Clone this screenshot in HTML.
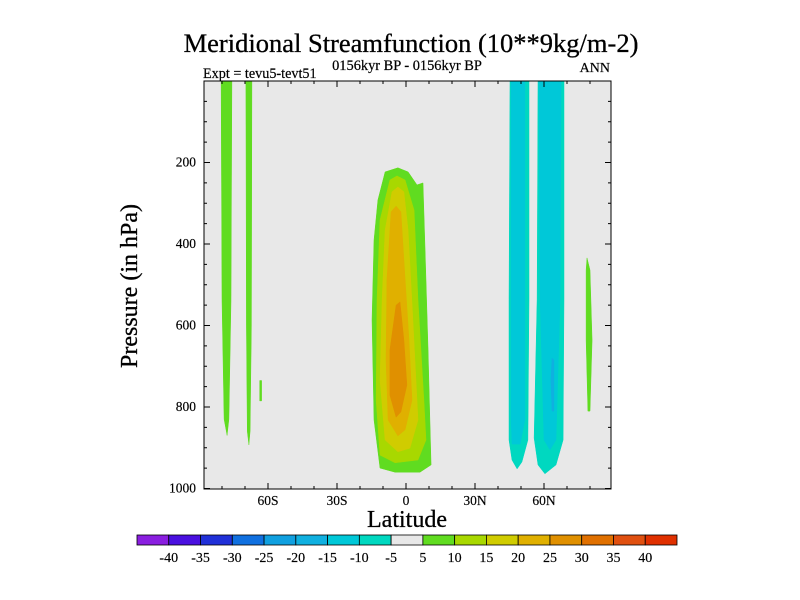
<!DOCTYPE html>
<html><head><meta charset="utf-8"><style>
html,body{margin:0;padding:0;background:#fff;}
svg{display:block;font-family:"Liberation Serif",serif;}
</style></head><body>
<svg id="chart" width="800" height="600" viewBox="0 0 800 600" xmlns="http://www.w3.org/2000/svg">
<rect x="0" y="0" width="800" height="600" fill="#fff"/>
<text x="411" y="52" font-size="26.5" text-anchor="middle" stroke="#000" stroke-width="0.3">Meridional Streamfunction (10**9kg/m-2)</text>
<text x="407" y="70" font-size="14.4" text-anchor="middle" stroke="#000" stroke-width="0.2">0156kyr BP - 0156kyr BP</text>
<text x="203" y="78" font-size="14.2" stroke="#000" stroke-width="0.2">Expt = tevu5-tevt51</text>
<text x="610" y="72" font-size="14" text-anchor="end" stroke="#000" stroke-width="0.2">ANN</text>
<rect x="204" y="81" width="407" height="408" fill="#e8e8e8"/>
<g id="contours"></g>
<g id="axes"></g>
<rect x="204" y="81" width="407" height="408" fill="none" stroke="#000" stroke-width="1"/>
<text x="407" y="527" font-size="24" text-anchor="middle" stroke="#000" stroke-width="0.3">Latitude</text>
<text x="0" y="0" font-size="24" text-anchor="middle" stroke="#000" stroke-width="0.3" transform="translate(137,286) rotate(-90)">Pressure (in hPa)</text>
<g id="colorbar"></g>
</svg>
<script>
const NS="http://www.w3.org/2000/svg";
const latTicks=[-60,-30,0,30,60];
const latTickLabels=["60S","30S","0","30N","60N"];
const presTicks=[200,400,600,800,1000];
const presTickLabels=["200","400","600","800","1000"];
const levelColors=["#8a1ee0","#4a10e0","#2030d8","#1070e0","#10a0e0","#10b0e0","#00c8d8","#00d8c0","#e8e8e8","#60dc20","#a8d800","#d0cc00","#e0b000","#e09000","#e07000","#e05010","#e03000"];
const levelLabels=["-40","-35","-30","-25","-20","-15","-10","-5","5","10","15","20","25","30","35","40"];
const stripL1=[[-80.4,0],[-75.7,0],[-76.1,540],[-77,830],[-77.8,870],[-79.1,830],[-80,540]];
const stripL2=[[-69.6,0],[-67,0],[-67.2,600],[-67.8,860],[-68.3,893],[-69,860],[-69.4,600]];
const stripL3=[[-63.6,735],[-62.8,735],[-62.8,785],[-63.6,785]];
const cell10=[[-9.1,223],[-3.5,213],[0.9,223],[4.8,255],[7.4,250],[8.3,415],[9.6,660],[10.4,832],[10.9,942],[6.1,960],[-4.8,960],[-11.3,950],[-13.9,832],[-14.8,586],[-13.9,390],[-12.2,292]];
const cell15=[[-7,243],[-3.9,233],[-0.4,243],[3.5,317],[5.2,537],[7.8,783],[8.7,881],[5.2,930],[-4.8,937],[-11.3,918],[-13,783],[-12.6,537],[-11.3,341]];
const cell20=[[-6.1,272],[-3.5,260],[-0.9,272],[0.9,366],[3,586],[5.2,832],[1.7,901],[-3.5,910],[-9.1,881],[-11.3,734],[-10.4,537],[-9.1,366]];
const cell25=[[-6.5,321],[-4.3,307],[-2.2,321],[-0.9,439],[1.3,636],[2.6,783],[-0.4,856],[-3.5,871],[-7.8,832],[-8.7,685],[-8.3,488]];
const cell30=[[-4.3,550],[-2.6,542],[-0.9,636],[0.4,746],[-2.2,812],[-4.3,825],[-7,771],[-7,660]];
const stripAOuter=[[45.2,0],[53.5,0],[53.5,537],[53,881],[50.4,935],[48.3,952],[46.1,930],[44.8,881],[44.8,537]];
const stripAInner=[[45.7,0],[51.7,0],[51.7,832],[49.6,891],[46.1,891],[45.7,832]];
const stripBOuter=[[57.4,0],[68.7,0],[68.7,537],[68.3,881],[65.2,942],[60.4,964],[57.4,942],[55.7,876],[57,537]];
const stripBInner=[[57.8,0],[67.4,0],[67,537],[65.2,881],[62.6,905],[60,881],[58.3,537]];
const stripBCore=[[63.5,680],[64.3,685],[64.3,810],[63.5,810],[63,734]];
const stripRight=[[78.7,434],[80,464],[80.9,636],[80,810],[79.1,810],[78.3,636],[78.3,464]];
const regions=[
 ["strip-sh-1",stripL1,9],["strip-sh-2",stripL2,9],["strip-sh-3",stripL3,9],
 ["cell-10",cell10,9],["cell-15",cell15,10],["cell-20",cell20,11],["cell-25",cell25,12],["cell-30",cell30,13],
 ["strip-a-outer",stripAOuter,7],["strip-a-inner",stripAInner,6],
 ["strip-b-outer",stripBOuter,7],["strip-b-inner",stripBInner,6],["strip-b-core",stripBCore,5],
 ["strip-nh-right",stripRight,9]];
function xs(lat){return 406+lat*2.3;}
function ys(p){return 81+p*0.4075;}
const cg=document.getElementById('contours');
regions.forEach(r=>{
 const pg=document.createElementNS(NS,'polygon');
 pg.setAttribute('points',r[1].map(v=>xs(v[0]).toFixed(1)+","+ys(v[1]).toFixed(1)).join(" "));
 pg.setAttribute('fill',levelColors[r[2]]);
 pg.setAttribute('stroke',levelColors[r[2]]);
 pg.setAttribute('stroke-width','0.5');
 pg.setAttribute('stroke-linejoin','round');
 
 
 cg.appendChild(pg);
});
const ax=document.getElementById('axes');
function line(x1,y1,x2,y2,name){
 const l=document.createElementNS(NS,'line');
 l.setAttribute('x1',x1);l.setAttribute('y1',y1);l.setAttribute('x2',x2);l.setAttribute('y2',y2);
 l.setAttribute('stroke','#000');l.setAttribute('stroke-width','1');
 
 
 ax.appendChild(l);
}
function txt(x,y,s,anchor,size,name,parent){
 const t=document.createElementNS(NS,'text');
 t.setAttribute('x',x);t.setAttribute('y',y);t.setAttribute('font-size',size);t.setAttribute('text-anchor',anchor);
 t.setAttribute('stroke','#000');t.setAttribute('stroke-width','0.15');
 t.textContent=s;
 
 
 parent.appendChild(t);
}
for(let lat=-80;lat<=80;lat+=10){
 const x=xs(lat),major=lat%30===0;const L=major?6:3;
 line(x,489,x,489-L,'x-tick');line(x,81,x,81+L,'x-tick-top');
}
latTicks.forEach((v,i)=>txt(xs(v),505,latTickLabels[i],'middle',13.5,'x-tick-label',ax));
for(let p=50;p<=1000;p+=50){
 const y=ys(p),major=p%200===0;const L=major?6:3;
 line(204,y,204+L,y,'y-tick');line(611,y,611-L,y,'y-tick-right');
}
presTicks.forEach((v,i)=>txt(196,ys(v)+4,presTickLabels[i],'end',13.5,'y-tick-label',ax));
const cb=document.getElementById('colorbar');
const cbx=137,cbw=540,cby=535,cbh=10,bw=cbw/levelColors.length;
levelColors.forEach((c,i)=>{
 const r=document.createElementNS(NS,'rect');
 r.setAttribute('x',cbx+i*bw);r.setAttribute('y',cby);r.setAttribute('width',bw);r.setAttribute('height',cbh);
 r.setAttribute('fill',c);r.setAttribute('stroke','#000');r.setAttribute('stroke-width','0.8');
 
 
 cb.appendChild(r);
});
levelLabels.forEach((s,i)=>txt(cbx+(i+1)*bw,562,s,'middle',14,'colorbar-label',cb));
</script>
</body></html>
